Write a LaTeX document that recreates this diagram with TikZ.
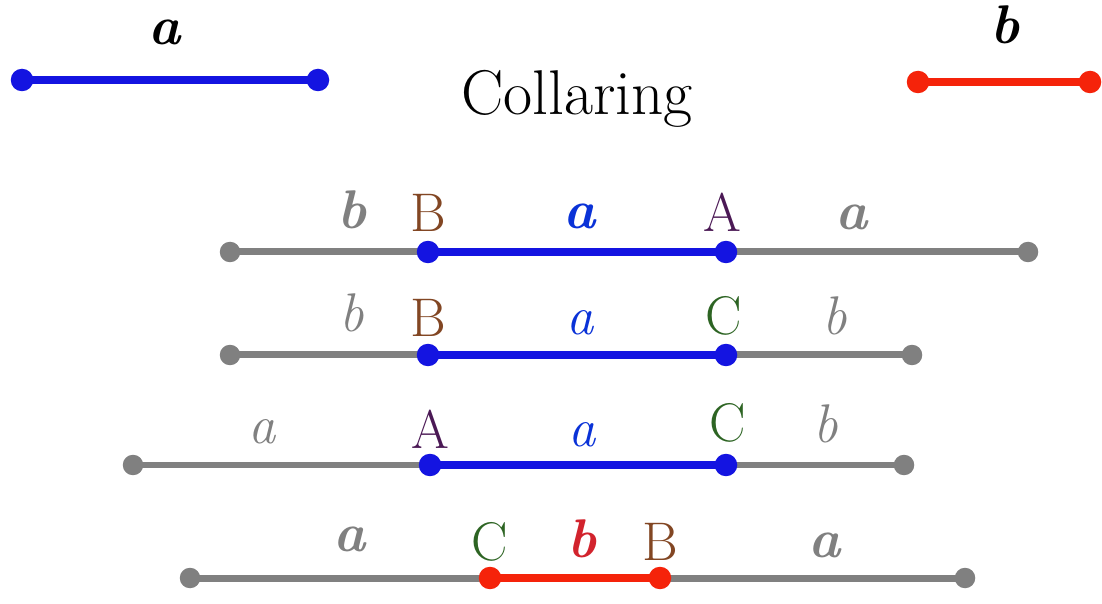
\documentclass[tikz,border=0pt]{standalone}
\usepackage{tikz}
\usetikzlibrary{backgrounds}
\definecolor{segblue}{RGB}{20,20,225}
\definecolor{segred}{RGB}{245,35,10}
\definecolor{seggray}{RGB}{128,128,128}
\definecolor{lblblue}{RGB}{10,50,215}
\definecolor{lblred}{RGB}{210,35,45}
\definecolor{brownB}{RGB}{130,70,35}
\definecolor{purpleA}{RGB}{75,25,85}
\definecolor{greenC}{RGB}{45,100,35}
\newcommand{\bi}[1]{{\bfseries\itshape #1}}

\begin{document}
\begin{tikzpicture}[x=0.02cm, y=-0.02cm,
  every node/.style={font=\fontsize{31}{35}\selectfont},
  segdot/.style={circle, fill=#1, inner sep=0pt, minimum size=0.45cm},
  graydot/.style={circle, fill=seggray, inner sep=0pt, minimum size=0.41cm},
  seg/.style={line width=0.16cm, draw=#1},
  grayseg/.style={line width=0.14cm, draw=seggray},
  lbl/.style={anchor=base, text=#1, inner sep=0pt}]
\useasboundingbox (0,0) rectangle (1102,604);

% the two edges
\node[segdot=segblue] (a1) at (22,80) {};
\node[segdot=segblue] (a2) at (318,80) {};
\node[lbl=black] (la) at (165,45) {\bi{a}};
\node[segdot=segred] (b1) at (918,82) {};
\node[segdot=segred] (b2) at (1090,82) {};
\node[lbl=black] (lb) at (1005,44) {\bi{b}};
\node[lbl=black, font=\fontsize{36}{40}\selectfont] (title) at (577,115) {Collaring};

% row 1: b a a
\node[graydot] (p1) at (230,252) {};
\node[segdot=segblue] (p2) at (428,252) {};
\node[segdot=segblue] (p3) at (726,252) {};
\node[graydot] (p4) at (1028,252) {};
\node[lbl=seggray] (p1l) at (352,229) {\bi{b}};
\node[lbl=brownB] (p2l) at (428,232) {B};
\node[lbl=lblblue] (p3l) at (580,229) {\bi{a}};
\node[lbl=purpleA] (p4l) at (722,232) {A};
\node[lbl=seggray] (p5l) at (852,230) {\bi{a}};

% row 2: b a b
\node[graydot] (q1) at (230,355) {};
\node[segdot=segblue] (q2) at (428,355) {};
\node[segdot=segblue] (q3) at (726,355) {};
\node[graydot] (q4) at (912,355) {};
\node[lbl=seggray] (q1l) at (352,332) {\textit{b}};
\node[lbl=brownB] (q2l) at (428,337) {B};
\node[lbl=lblblue] (q3l) at (580,335) {\textit{a}};
\node[lbl=greenC] (q4l) at (724,335) {C};
\node[lbl=seggray] (q5l) at (835,335) {\textit{b}};

% row 3: a a b
\node[graydot] (r1) at (133,465) {};
\node[segdot=segblue] (r2) at (430,465) {};
\node[segdot=segblue] (r3) at (726,465) {};
\node[graydot] (r4) at (904,465) {};
\node[lbl=seggray] (r1l) at (262,443) {\textit{a}};
\node[lbl=purpleA] (r2l) at (430,448) {A};
\node[lbl=lblblue] (r3l) at (582,446) {\textit{a}};
\node[lbl=greenC] (r4l) at (728,441) {C};
\node[lbl=seggray] (r5l) at (826,442) {\textit{b}};

% row 4: a b a
\node[graydot] (s1) at (190,578) {};
\node[segdot=segred] (s2) at (490,578) {};
\node[segdot=segred] (s3) at (660,578) {};
\node[graydot] (s4) at (965,578) {};
\node[lbl=seggray] (s1l) at (350,551) {\bi{a}};
\node[lbl=greenC] (s2l) at (490,560) {C};
\node[lbl=lblred] (s3l) at (582,557) {\bi{b}};
\node[lbl=brownB] (s4l) at (660,560) {B};
\node[lbl=seggray] (s5l) at (825,557) {\bi{a}};

\begin{scope}[on background layer]
\draw[seg=segblue] (a1.center) -- (a2.center);
\draw[seg=segred] (b1.center) -- (b2.center);
\foreach \r/\c in {p/segblue, q/segblue, r/segblue, s/segred} {
  \draw[grayseg] (\r1.center) -- (\r2.center);
  \draw[grayseg] (\r3.center) -- (\r4.center);
  \draw[seg=\c] (\r2.center) -- (\r3.center);
}
\end{scope}
\end{tikzpicture}
\end{document}
